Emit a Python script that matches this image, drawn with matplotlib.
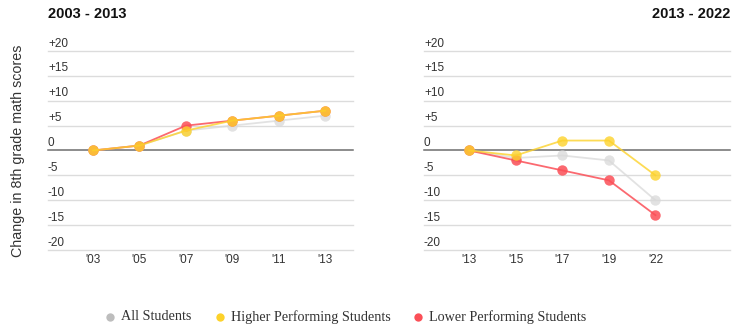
import matplotlib
matplotlib.use("Agg")
import matplotlib.pyplot as plt
from matplotlib.lines import Line2D

# NAEP 8th grade math: change in score relative to the period's first year
years_a = ["'03", "'05", "'07", "'09", "'11", "'13"]
all_a = [0, 1, 4, 5, 6, 7]
high_a = [0, 1, 4, 6, 7, 8]
low_a = [0, 1, 5, 6, 7, 8]

years_b = ["'13", "'15", "'17", "'19", "'22"]
all_b = [0, -1.5, -1, -2, -10]
high_b = [0, -1, 2, 2, -5]
low_b = [0, -2, -4, -6, -13]

ytick_vals = [20, 15, 10, 5, 0, -5, -10, -15, -20]
ytick_text = ["+20", "+15", "+10", "+5", "0", "-5", "-10", "-15", "-20"]

series_names = ["All Students", "Higher Performing Students", "Lower Performing Students"]
c_all, c_high, c_low = "#d9d9d9", "#fdd22a", "#fb4f57"

sans = ["Liberation Sans", "DejaVu Sans"]
serif = ["Liberation Serif", "DejaVu Serif"]

fig = plt.figure(figsize=(7.43, 3.35), dpi=100)
W, H = 743, 335


def add_panel(x0, x1, title, title_x, title_ha, labels, all_v, high_v, low_v):
    ax = fig.add_axes([x0 / W, (H - 250) / H, (x1 - x0) / W, (250 - 51) / H])
    ax.set_xlim(-0.97, 5.6)
    ax.set_ylim(-20, 20)
    for s in ax.spines.values():
        s.set_visible(False)
    for v in ytick_vals:
        if v == 0:
            ax.axhline(v, color="#6e6e6e", lw=1.1, zorder=1, clip_on=False)
        else:
            ax.axhline(v, color="#dcdcdc", lw=1.0, zorder=0, clip_on=False)
    for v, t in zip(ytick_vals, ytick_text):
        ax.annotate(t, xy=(0, v), xycoords=("axes fraction", "data"),
                    xytext=(0, 1), textcoords="offset points",
                    ha="left", va="bottom", fontsize=8.5, color="#333333",
                    family=sans)
    ax.set_yticks([])
    xs = list(range(len(labels)))
    ax.set_xticks(xs)
    ax.set_xticklabels(labels, fontsize=8.5, color="#333333", family=sans)
    ax.tick_params(axis="x", length=0, pad=3)
    kw = dict(lw=1.3, marker="o", markersize=7.5, markeredgewidth=0)
    ax.plot(xs, all_v, color=c_all, alpha=0.75, zorder=2, **kw)
    ax.plot(xs, low_v, color=c_low, alpha=0.85, zorder=3, **kw)
    ax.plot(xs, high_v, color=c_high, alpha=0.8, zorder=4, **kw)
    fig.text(title_x / W, (H - 14) / H, title, ha=title_ha, va="center",
             fontsize=10.5, fontweight="bold", color="#111111", family=sans)
    return ax


add_panel(48, 353, "2003 - 2013", 48, "left", years_a, all_a, high_a, low_a)
add_panel(424, 730, "2013 - 2022", 730, "right", years_b, all_b, high_b, low_b)

fig.text(18 / W, (H - 151) / H, "Change in 8th grade math scores", rotation=90,
         ha="center", va="center", fontsize=10.3, color="#333333", family=sans)

# legend row
for dot_x, name, col in zip([110, 220, 418], series_names, [c_all, c_high, c_low]):
    fig.add_artist(Line2D([dot_x / W], [(H - 317) / H], marker="o", markersize=6,
                          markeredgewidth=0, color="#bdbdbd" if col == c_all else col,
                          transform=fig.transFigure))
    fig.text((dot_x + 11) / W, (H - 317) / H, name, ha="left", va="center",
             fontsize=10.2, color="#333333", family=serif)

fig.savefig("out.png", dpi=100, facecolor="white")
